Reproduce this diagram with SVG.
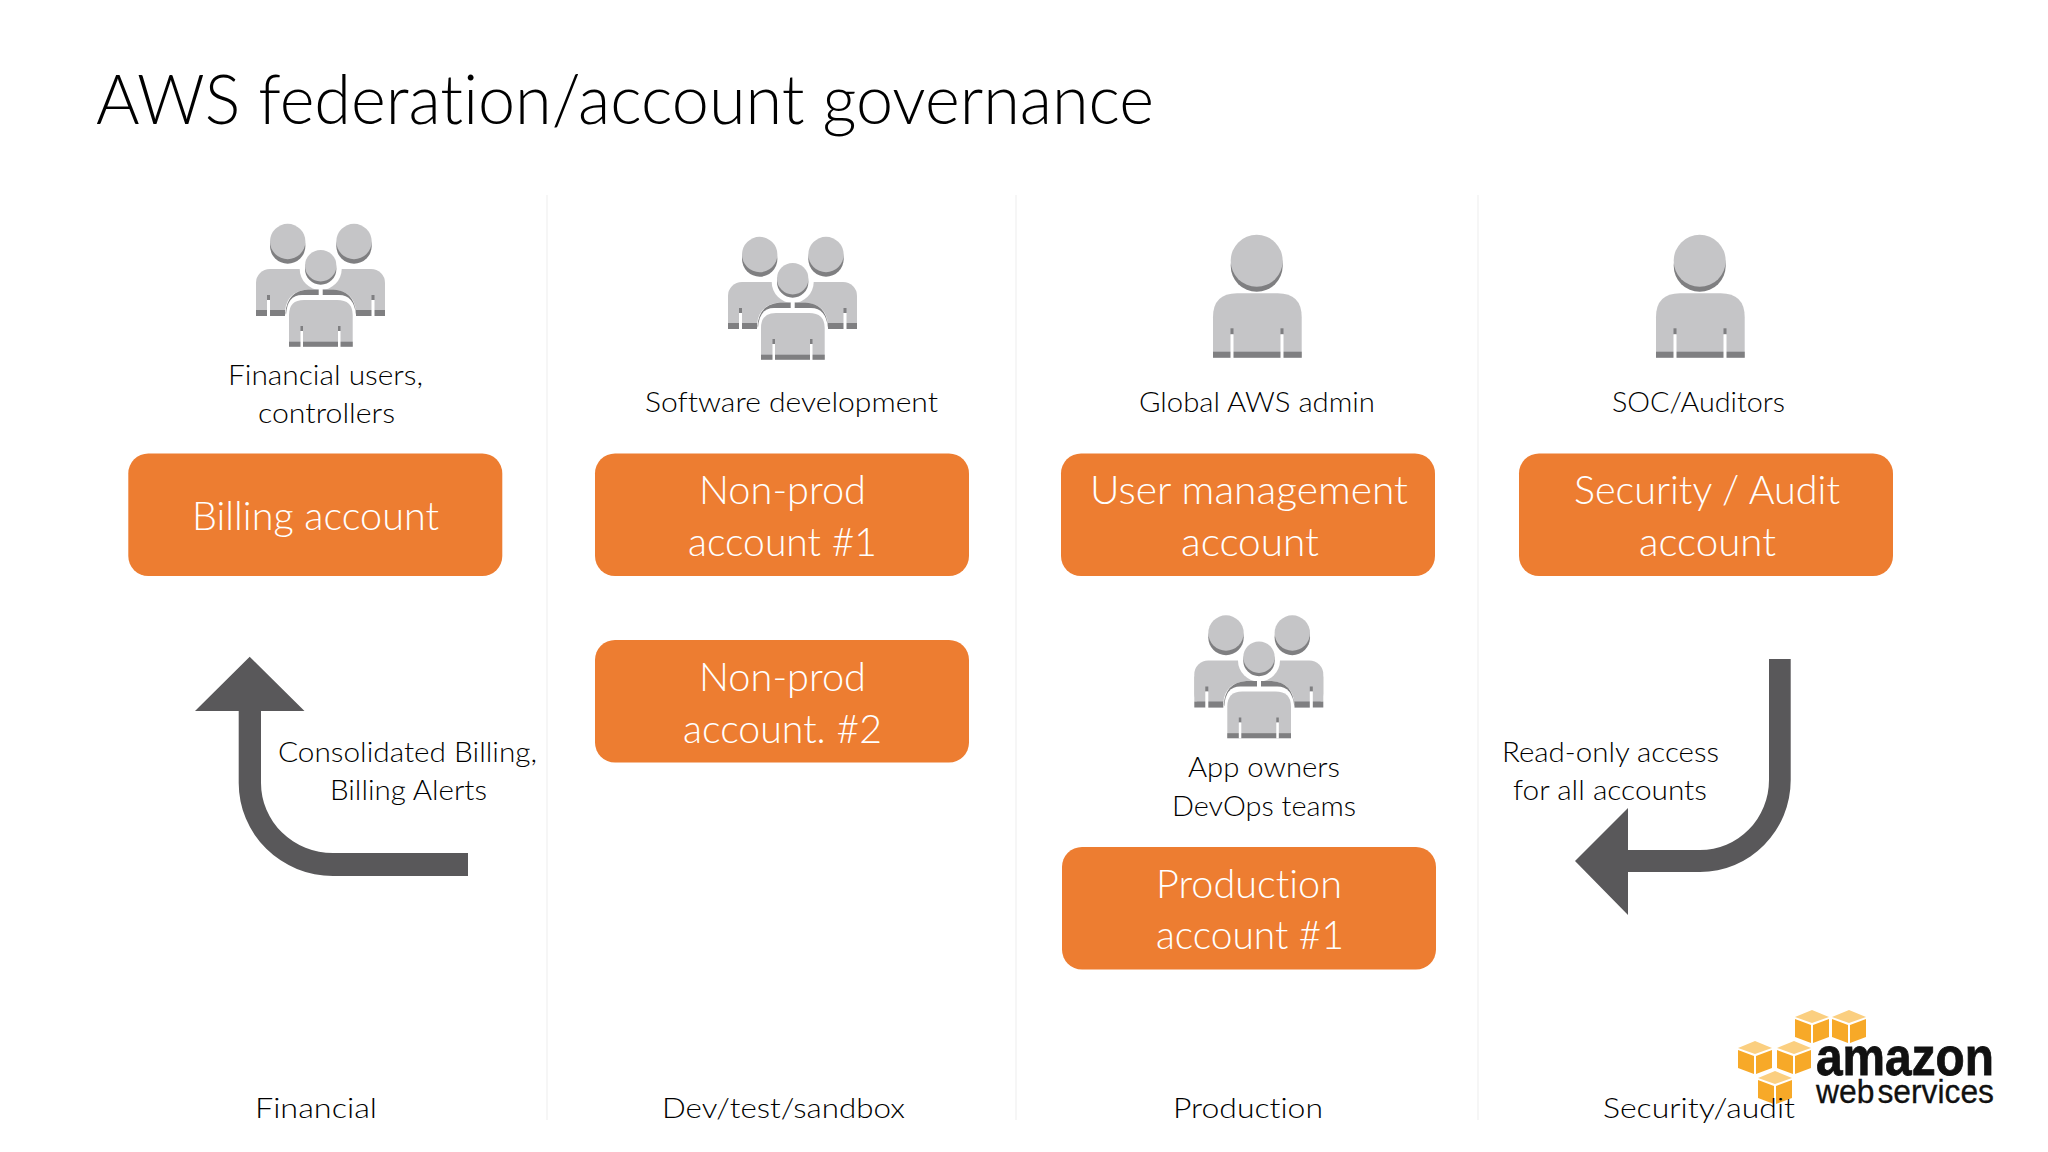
<svg xmlns="http://www.w3.org/2000/svg" xmlns:xlink="http://www.w3.org/1999/xlink" width="2048" height="1152" viewBox="0 0 2048 1152">
<style>
text{font-family:"Lato","Open Sans","Liberation Sans",sans-serif;font-weight:300;fill:#000;font-variant-ligatures:none}
.title{font-size:69px}
.lab{font-size:27.5px}
.box{fill:#ed7d31}
.bt{font-size:40px;fill:#fff}
.light{fill:#c5c5c7}
.dark{fill:#7f7f81}
.sep{stroke:#f4f4f4;stroke-width:1.5;fill:none}
.arrow{fill:#59585a}
.cf{fill:#f7a928}
.ct{fill:#fbcf80}
.logo{font-family:"Liberation Sans",Arial,sans-serif;fill:#111}
</style>
<defs>
<g id="person">
<circle class="dark" cx="43.7" cy="-27.5" r="26"/>
<circle class="light" cx="43.7" cy="-32.5" r="26"/>
<path class="light" d="M0,64.4V24Q0,0 24,0H64.7Q88.7,0 88.7,24V64.4Z"/>
<rect class="dark" x="0" y="58.4" width="88.7" height="6"/>
<rect class="dark" x="17.5" y="35" width="3" height="6"/><rect x="17.5" y="41" width="3" height="24" fill="#fff"/>
<rect class="dark" x="67.5" y="35" width="3" height="6"/><rect x="67.5" y="41" width="3" height="24" fill="#fff"/>
</g>
<g id="group">
<circle class="dark" cx="31.7" cy="21" r="17.7"/><circle class="light" cx="31.7" cy="16.5" r="17.7"/>
<circle class="dark" cx="98" cy="21" r="17.7"/><circle class="light" cx="98" cy="16.5" r="17.7"/>
<rect class="light" x="0" y="44" width="129" height="47" rx="14"/>
<rect class="light" x="0" y="60" width="129" height="25"/>
<rect class="dark" x="0" y="85" width="129" height="6"/>
<rect class="dark" x="11" y="70" width="3" height="5"/><rect x="11" y="75" width="3" height="17" fill="#fff"/>
<rect class="dark" x="115.5" y="70" width="3" height="5"/><rect x="115.5" y="75" width="3" height="17" fill="#fff"/>
<circle cx="64.7" cy="44" r="21" fill="#fff"/>
<path d="M29,92V86Q31,66 52,64.5H77Q98,66 100,86V92Z" fill="#fff"/>
<path class="dark" d="M29.5,88Q31,66 52,64.5H62.7V75H40L30,90Z"/>
<path class="dark" d="M99.9,88Q98.4,66 77.4,64.5H66.7V75H89.4L99.4,90Z"/>
<circle class="dark" cx="64.7" cy="44" r="15.7"/><circle class="light" cx="64.7" cy="40.7" r="15.7"/>
<path d="M30,122V90Q31,70 46,70H83Q98,70 100,90V122Z" fill="#fff"/>
<path class="light" d="M33,121.7V90Q33,75 48,75H81Q96.7,75 96.7,90V121.7Z"/>
<rect class="dark" x="33" y="116.7" width="63.7" height="5"/>
<rect class="dark" x="44.5" y="101" width="2.5" height="5"/><rect x="44.5" y="106" width="2.5" height="16" fill="#fff"/>
<rect class="dark" x="82" y="101" width="2.5" height="5"/><rect x="82" y="106" width="2.5" height="16" fill="#fff"/>
</g>
<g id="cube">
<path class="ct" d="M0,7L17,0L34,7L17,13Z"/>
<path class="cf" d="M0,9L16,15V33L0,27Z"/>
<path class="cf" d="M34,9L18,15V33L34,27Z"/>
</g>
</defs>
<rect width="2048" height="1152" fill="#fff"/>
<text class="title" x="96" y="124" textLength="1058" lengthAdjust="spacingAndGlyphs">AWS federation/account governance</text>
<g id="separators">
<path class="sep" d="M547,195V1120M1016,195V1120M1478,195V1120"/>
</g>
<g id="connectors">
<path id="arrow-billing" class="arrow" d="M249.7,656.7L304.5,711H261V783A72,70 0 0 0 333,853H468V876H333A94.3,93 0 0 1 238.7,783V711H195Z"/>
<path id="arrow-audit" class="arrow" d="M1769,659H1790.7V780A91,92 0 0 1 1700,872H1628V915L1575,861L1628,808V850H1700A69,70 0 0 0 1769,780Z"/>
<text class="lab" x="278" y="762" textLength="259" lengthAdjust="spacingAndGlyphs">Consolidated Billing,</text>
<text class="lab" x="330" y="800" textLength="157" lengthAdjust="spacingAndGlyphs">Billing Alerts</text>
<text class="lab" x="1502" y="762" textLength="217" lengthAdjust="spacingAndGlyphs">Read-only access</text>
<text class="lab" x="1513" y="800" textLength="194" lengthAdjust="spacingAndGlyphs">for all accounts</text>
</g>
<g id="users-financial">
<use xlink:href="#group" href="#group" x="256" y="225"/>
<text class="lab" x="228" y="385" textLength="195" lengthAdjust="spacingAndGlyphs">Financial users,</text>
<text class="lab" x="258" y="423" textLength="137" lengthAdjust="spacingAndGlyphs">controllers</text>
</g>
<g id="users-software">
<use xlink:href="#group" href="#group" x="728" y="238"/>
<text class="lab" x="645" y="412" textLength="293" lengthAdjust="spacingAndGlyphs">Software development</text>
</g>
<g id="user-admin">
<use xlink:href="#person" href="#person" x="1213" y="293.3"/>
<text class="lab" x="1139" y="412" textLength="236" lengthAdjust="spacingAndGlyphs">Global AWS admin</text>
</g>
<g id="user-soc">
<use xlink:href="#person" href="#person" x="1656" y="293.3"/>
<text class="lab" x="1612" y="412" textLength="173" lengthAdjust="spacingAndGlyphs">SOC/Auditors</text>
</g>
<g id="users-app">
<use xlink:href="#group" href="#group" x="1194.3" y="616.5"/>
<text class="lab" x="1188" y="777" textLength="152" lengthAdjust="spacingAndGlyphs">App owners</text>
<text class="lab" x="1172" y="815.5" textLength="184" lengthAdjust="spacingAndGlyphs">DevOps teams</text>
</g>
<g id="billing-account">
<rect class="box" x="128.3" y="453.5" width="374" height="122.5" rx="20"/>
<text class="bt" x="192" y="530" textLength="247" lengthAdjust="spacingAndGlyphs">Billing account</text>
</g>
<g id="nonprod-1">
<rect class="box" x="595" y="453.5" width="374" height="122.5" rx="20"/>
<text class="bt" x="699" y="504" textLength="167" lengthAdjust="spacingAndGlyphs">Non-prod</text>
<text class="bt" x="688" y="556" textLength="189" lengthAdjust="spacingAndGlyphs">account #1</text>
</g>
<g id="nonprod-2">
<rect class="box" x="595" y="640" width="374" height="122.5" rx="20"/>
<text class="bt" x="699" y="691" textLength="167" lengthAdjust="spacingAndGlyphs">Non-prod</text>
<text class="bt" x="683" y="743" textLength="199" lengthAdjust="spacingAndGlyphs">account. #2</text>
</g>
<g id="user-management">
<rect class="box" x="1061" y="453.5" width="374" height="122.5" rx="20"/>
<text class="bt" x="1090" y="504" textLength="318" lengthAdjust="spacingAndGlyphs">User management</text>
<text class="bt" x="1181" y="556" textLength="138" lengthAdjust="spacingAndGlyphs">account</text>
</g>
<g id="security-audit">
<rect class="box" x="1519" y="453.5" width="374" height="122.5" rx="20"/>
<text class="bt" x="1574" y="504" textLength="266" lengthAdjust="spacingAndGlyphs">Security / Audit</text>
<text class="bt" x="1639" y="556" textLength="137" lengthAdjust="spacingAndGlyphs">account</text>
</g>
<g id="production-1">
<rect class="box" x="1062" y="847" width="374" height="122.5" rx="20"/>
<text class="bt" x="1156" y="898" textLength="186" lengthAdjust="spacingAndGlyphs">Production</text>
<text class="bt" x="1156" y="949" textLength="188" lengthAdjust="spacingAndGlyphs">account #1</text>
</g>
<g id="logo">
<use xlink:href="#cube" href="#cube" x="1795" y="1010"/>
<use xlink:href="#cube" href="#cube" x="1832" y="1010"/>
<use xlink:href="#cube" href="#cube" x="1738" y="1041"/>
<use xlink:href="#cube" href="#cube" x="1777" y="1041"/>
<use xlink:href="#cube" href="#cube" x="1758" y="1071"/>
<text class="logo" x="1816" y="1075" font-size="53" style="font-weight:700" stroke="#111" stroke-width="0.8" textLength="178" lengthAdjust="spacingAndGlyphs">amazon</text>
<text class="logo" x="1816" y="1103" font-size="33" style="font-weight:400" stroke="#111" stroke-width="0.3" textLength="178" lengthAdjust="spacingAndGlyphs" word-spacing="-6">web services</text>
</g>
<g id="columns">
<text class="lab" x="255" y="1118" textLength="122" lengthAdjust="spacingAndGlyphs">Financial</text>
<text class="lab" x="662" y="1118" textLength="243" lengthAdjust="spacingAndGlyphs">Dev/test/sandbox</text>
<text class="lab" x="1173" y="1118" textLength="150" lengthAdjust="spacingAndGlyphs">Production</text>
<text class="lab" x="1603" y="1118" textLength="192" lengthAdjust="spacingAndGlyphs">Security/audit</text>
</g>
</svg>
